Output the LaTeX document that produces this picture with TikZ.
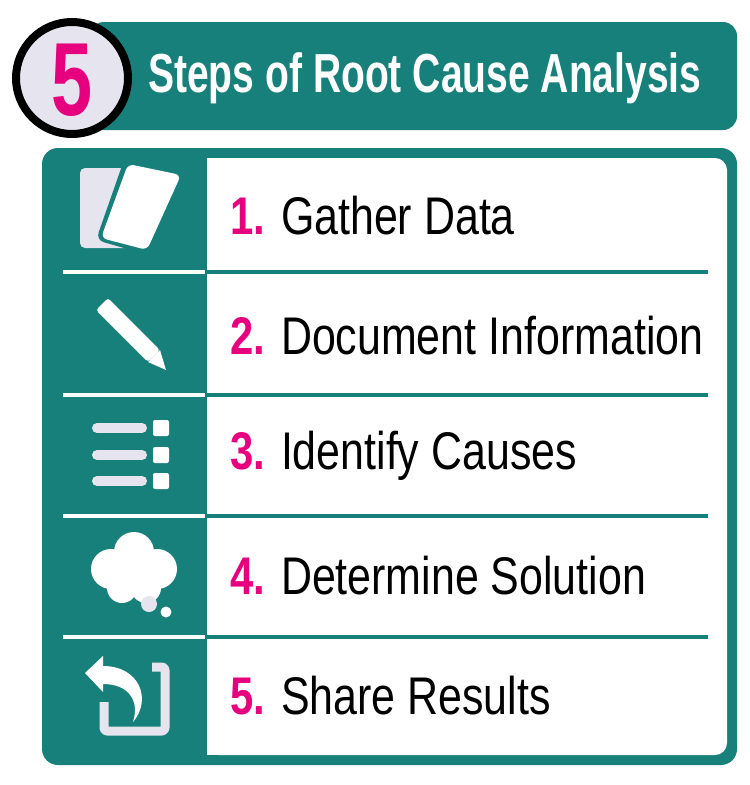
\documentclass[tikz,border=0pt]{standalone}
\usepackage{fontspec}
\setmainfont{Liberation Sans}
\newfontfamily\condf[FakeStretch=0.81]{Liberation Sans}
\newfontfamily\condnb[FakeStretch=0.79]{Liberation Sans Bold}
\newfontfamily\condb[FakeStretch=0.71]{Liberation Sans Bold}
\definecolor{teal1}{HTML}{17807A}
\definecolor{pinkc}{HTML}{E6007E}
\definecolor{lgray}{HTML}{E6E4EE}
\newcommand{\stepnum}[1]{{\condnb\color{pinkc}#1}}
\tikzset{
  steptext/.style={anchor=west,inner sep=0,font=\condf\fontsize{53}{53}\selectfont,text=black},
  wl/.style={draw=white,line width=4.5},
  tl/.style={draw=teal1,line width=4.5},
}
\begin{document}
\begin{tikzpicture}[x=1pt,y=-1pt]
\useasboundingbox (0,0) rectangle (750,785);
% header
\fill[teal1,rounded corners=14] (90,22) rectangle (737,130);
\node[draw=black,line width=8,fill=lgray,circle,minimum size=112,inner sep=0] (c5) at (72,78) {};
\node[text=pinkc,font=\condb\fontsize{104}{104}\selectfont,inner sep=0] (n5) at (72,80) {5};
\node[anchor=west,inner sep=0,text=white,font=\condb\fontsize{55}{55}\selectfont] (title) at (148,78) {Steps of Root Cause Analysis};
% panel
\fill[teal1,rounded corners=16] (42,148) rectangle (737,765);
\fill[white,rounded corners=12] (207,158) -- (727,158) -- (727,755) -- (207,755) -- cycle;
\fill[white] (207,158) rectangle (230,755);
\foreach \y in {272,395,516,637}{
  \draw[wl] (63,\y) -- (205,\y);
  \draw[tl] (207,\y) -- (708,\y);
}
% texts
\node[steptext] (s1) at (230,216) {\stepnum{1.} Gather Data};
\node[steptext] (s2) at (230,336) {\stepnum{2.} Document Information};
\node[steptext] (s3) at (230,456) {\stepnum{3.} Identify Causes};
\node[steptext] (s4) at (230,576) {\stepnum{4.} Determine Solution};
\node[steptext] (s5) at (230,696) {\stepnum{5.} Share Results};
% icon 1
\fill[lgray,rounded corners=5] (80,168) rectangle (130,248);
\fill[teal1,rounded corners=8] (124,160) -- (186,172) -- (152,256) -- (96,240) -- cycle;
\fill[white,rounded corners=6] (128,164) -- (181,175) -- (147,250) -- (101,238) -- cycle;
% icon 2 pencil
\fill[white,rounded corners=3] (96,310) -- (108,298) -- (160,350) -- (148,362) -- cycle;
\fill[white] (148,362) -- (160,350) -- (166,370) -- cycle;
% icon 3
\foreach \y in {428,455,481}{
  \draw[lgray,line width=10,line cap=round] (97,\y) -- (142,\y);
  \fill[white,rounded corners=2] (153,\y-8) rectangle (169,\y+8);
}
% icon 4 cloud
\fill[white] (134,552) circle (20) (111,569) circle (20) (157,569) circle (20) (122,588) circle (15) (146,588) circle (15) (134,574) circle (20);
\fill[lgray] (149,604) circle (8);
\fill[white] (166,612) circle (5.5);
% icon 5
\draw[lgray,line width=9,line join=round,rounded corners=3] (152,667) -- (165,667) -- (165,731) -- (104,731) -- (104,702);
\fill[white] (85,673) -- (103,656) -- (103,666) .. controls (140,666) and (152,700) .. (133,722) .. controls (140,700) and (128,684) .. (103,684) -- (103,692) -- cycle;
\end{tikzpicture}
\end{document}
